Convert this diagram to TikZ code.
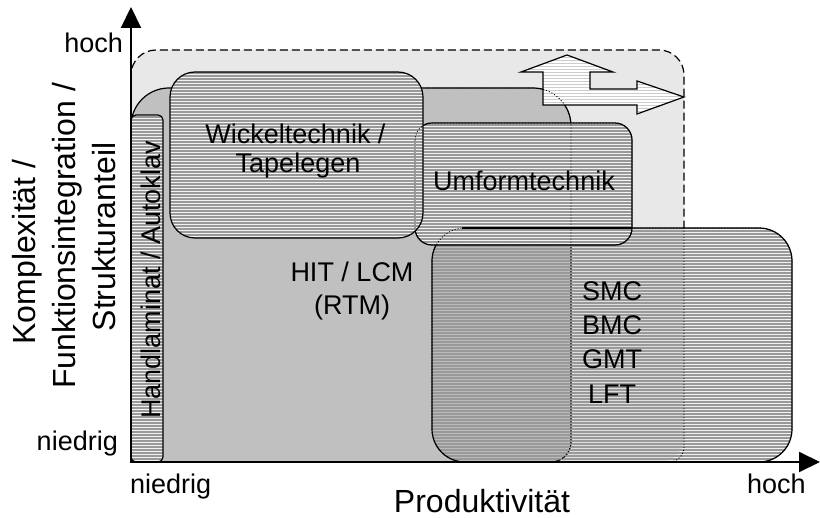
\documentclass[tikz,border=0pt]{standalone}
\usepackage{fontspec}
\setmainfont{Liberation Sans}
\usetikzlibrary{arrows.meta,patterns}
\pgfdeclarepatternformonly{hhatch}{\pgfqpoint{0pt}{0pt}}{\pgfqpoint{1000pt}{3.3pt}}{\pgfqpoint{1000pt}{3.3pt}}{\pgfpathrectangle{\pgfqpoint{0pt}{0pt}}{\pgfqpoint{1000pt}{2.5pt}}\pgfusepath{fill}}
\definecolor{lightreg}{HTML}{E8E8E8}
\definecolor{hitgray}{HTML}{C0C0C0}
\definecolor{hatchgray}{HTML}{999999}
\definecolor{arrowhatch}{HTML}{CCCCCC}
\begin{document}
\begin{tikzpicture}[x=1bp,y=-1bp,
  box/.style={draw=black, line width=1.2bp},
  hatched/.style={pattern=hhatch, pattern color=hatchgray},
  opaquehatch/.style={preaction={fill=white}, pattern=hhatch, pattern color=hatchgray},
  hidden/.style={draw=black, line width=0.9bp, dash pattern=on 1bp off 2bp},
  axis/.style={line width=2bp, {Triangle[length=21bp,width=20bp]}-{Triangle[length=21bp,width=20bp]}},
  lbl/.style={font=\fontsize{27bp}{33bp}\selectfont, inner sep=0pt},
  axlbl/.style={font=\fontsize{32bp}{40bp}\selectfont, inner sep=0pt}]
\useasboundingbox (0,0) rectangle (820,518);

% light region
\fill[lightreg, rounded corners=25bp] (131,50) rectangle (684,462);

% HIT / LCM region
\path[box, fill=hitgray] (131,462) [rounded corners=38bp] -- (131,88) -- (571,88) [rounded corners=20bp] -- (571,462) -- cycle;

% SMC region
\path[box, hatched, rounded corners=33bp] (432,228) rectangle (792,462);

% Umformtechnik
\path[box, opaquehatch, rounded corners=17bp] (415,123) rectangle (632,245);

% Wickeltechnik
\path[box, opaquehatch, rounded corners=25bp] (170,72) rectangle (423,238);

% Handlaminat
\path[box, opaquehatch, rounded corners=5bp] (131,115) rectangle (163,462);

% hidden outlines
\draw[hidden, rounded corners=17bp] (415,123) rectangle (632,245);
\draw[hidden, rounded corners=33bp] (432,228) rectangle (792,462);
\draw[box] (462,228) -- (632,228);
\draw[hidden] (684,228) [rounded corners=15bp] -- (684,462) -- (640,462);

% dashed border of light region
\draw[box, dash pattern=on 8bp off 4bp, rounded corners=25bp] (131,200) -- (131,50) -- (684,50) -- (684,228);

% big arrow
\draw[box, preaction={fill=white}, pattern=horizontal lines, pattern color=arrowhatch]
  (543,105) -- (543,72) -- (521,72) -- (567,55) -- (613,72) -- (590,72) -- (590,89)
  -- (637,89) -- (637,81) -- (684,97) -- (637,114) -- (637,105) -- cycle;

% hidden right part of HIT region
\begin{scope}
  \clip (425,0) rectangle (820,518);
  \draw[hidden] (131,462) [rounded corners=38bp] -- (131,88) -- (571,88) [rounded corners=20bp] -- (571,462) -- cycle;
\end{scope}

% axes
\coordinate (O) at (131,462);
\coordinate (Ytip) at (131,7);
\coordinate (Xtip) at (820,462);
\draw[axis] (Ytip) -- (O) -- (Xtip);

% labels
\node[lbl, anchor=base east] (yhoch) at (123,53) {hoch};
\node[lbl, anchor=base east] (yniedrig) at (118,450) {niedrig};
\node[lbl, anchor=base west] (xniedrig) at (130,493) {niedrig};
\node[lbl, anchor=base west] (xhoch) at (747,493) {hoch};
\node[axlbl, anchor=base] (xlabel) at (482,512) {Produktivität};
\node[axlbl, anchor=base, rotate=90] (ylab1) at (35,252) {Komplexität /};
\node[axlbl, anchor=base, rotate=90] (ylab2) at (75,236) {Funktionsintegration /};
\node[axlbl, anchor=base, rotate=90] (ylab3) at (115,237) {Strukturanteil};

\node[lbl, anchor=base, rotate=90] (hand) at (160,280) {Handlaminat / Autoklav};
\node[lbl, anchor=base] (wick1) at (295.5,144) {Wickeltechnik /};
\node[lbl, anchor=base] (wick2) at (298,173) {Tapelegen};
\node[lbl, anchor=base] (umf) at (524,191) {Umformtechnik};
\node[lbl, anchor=base] (hit1) at (352,282) {HIT / LCM};
\node[lbl, anchor=base] (hit2) at (352,315) {(RTM)};
\node[lbl, anchor=base] (smc) at (612,301) {SMC};
\node[lbl, anchor=base] (bmc) at (612,334) {BMC};
\node[lbl, anchor=base] (gmt) at (612,368) {GMT};
\node[lbl, anchor=base] (lft) at (612,403) {LFT};
\end{tikzpicture}
\end{document}
